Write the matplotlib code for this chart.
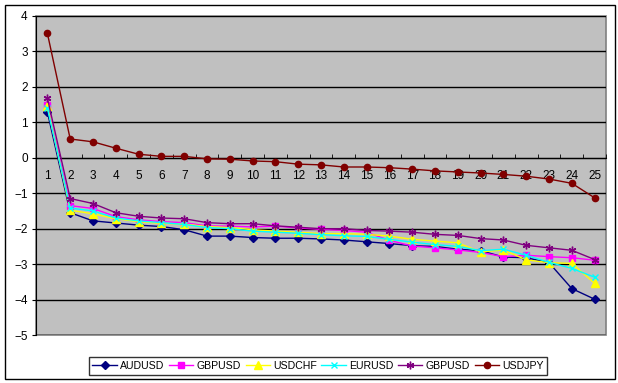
import numpy as np
import matplotlib.pyplot as plt
from matplotlib.patches import Rectangle

plt.rcParams['font.family'] = ['Liberation Sans', 'DejaVu Sans']

days = list(range(1, 26))

audusd = [1.29, -1.55, -1.78, -1.84, -1.90, -1.94, -2.03, -2.21, -2.21, -2.25,
          -2.27, -2.27, -2.29, -2.32, -2.37, -2.42, -2.48, -2.50, -2.58, -2.62,
          -2.80, -2.82, -2.96, -3.69, -3.99]
gbpusd = [1.48, -1.35, -1.43, -1.66, -1.75, -1.80, -1.83, -1.92, -1.93, -1.95,
          -1.93, -1.98, -2.02, -2.05, -2.10, -2.33, -2.49, -2.54, -2.60, -2.67,
          -2.79, -2.75, -2.79, -2.82, -2.89]
usdchf = [1.45, -1.48, -1.58, -1.72, -1.80, -1.85, -1.87, -1.94, -1.97, -2.03,
          -2.07, -2.10, -2.14, -2.14, -2.16, -2.21, -2.30, -2.35, -2.40, -2.66,
          -2.60, -2.88, -2.96, -2.98, -3.54]
eurusd = [1.40, -1.42, -1.50, -1.70, -1.78, -1.83, -1.88, -1.97, -2.00, -2.07,
          -2.10, -2.13, -2.17, -2.20, -2.22, -2.30, -2.38, -2.45, -2.50, -2.62,
          -2.58, -2.75, -2.95, -3.12, -3.37]
gbpusd2 = [1.68, -1.15, -1.29, -1.55, -1.65, -1.70, -1.72, -1.83, -1.86, -1.86,
           -1.92, -1.96, -2.00, -2.00, -2.05, -2.07, -2.10, -2.16, -2.19, -2.28,
           -2.32, -2.47, -2.54, -2.61, -2.87]
usdjpy = [3.51, 0.53, 0.45, 0.27, 0.10, 0.04, 0.04, -0.03, -0.04, -0.09,
          -0.11, -0.18, -0.20, -0.26, -0.26, -0.28, -0.32, -0.37, -0.40, -0.43,
          -0.47, -0.52, -0.60, -0.72, -1.13]

series = [
    ('AUDUSD', audusd, '#000080', 'D', 4),
    ('GBPUSD', gbpusd, '#FF00FF', 's', 4.5),
    ('USDCHF', usdchf, '#FFFF00', '^', 5.5),
    ('EURUSD', eurusd, '#00FFFF', 'x', 4.5),
    ('GBPUSD', gbpusd2, '#800080', (6, 2, 0), 5.5),
    ('USDJPY', usdjpy, '#800000', 'o', 4.5),
]

fig = plt.figure(figsize=(6.18, 3.83), dpi=100)
fig.patch.set_facecolor('white')
fig.patches.append(Rectangle((5 / 618, 4 / 383), 610 / 618, 374 / 383,
                             transform=fig.transFigure, fill=False,
                             edgecolor='black', linewidth=1))

ax = fig.add_axes([36 / 618, 48 / 383, 570 / 618, 319 / 383])
ax.set_facecolor('#C0C0C0')
ax.patch.set_edgecolor('#808080')
ax.patch.set_linewidth(1.2)

for name, vals, color, marker, ms in series:
    ax.plot(days, vals, color=color, linewidth=1, marker=marker, markersize=ms,
            markeredgewidth=1, markeredgecolor=color, markerfacecolor=color,
            label=name, zorder=3)

ax.set_xlim(0.5, 25.5)
ax.set_ylim(-5, 4)
ax.set_yticks(range(-5, 5))
ax.yaxis.grid(True, color='black', linewidth=1)
ax.set_axisbelow(True)

ax.spines['top'].set_visible(False)
ax.spines['right'].set_visible(False)
ax.spines['left'].set_color('black')
ax.spines['bottom'].set_position(('data', 0))
ax.spines['bottom'].set_color('black')

ax.set_xticks(days)
ax.set_xticklabels([str(d) for d in days])
ax.set_xticks(np.arange(0.5, 26, 1), minor=True)
ax.tick_params(axis='x', which='major', length=0, pad=9, labelsize=8.5)
ax.tick_params(axis='x', which='minor', direction='in', length=3, color='black')
ax.tick_params(axis='y', direction='out', length=3, labelsize=8.5, pad=3)

leg = ax.legend(loc='center', bbox_to_anchor=(318 / 618, 1 - 366 / 383),
                bbox_transform=fig.transFigure, ncol=6, fontsize=7.6,
                frameon=True, fancybox=False, edgecolor='black',
                handlelength=2.3, handletextpad=0.3, columnspacing=0.45,
                borderpad=0.35, borderaxespad=0)
leg.get_frame().set_linewidth(1)

fig.savefig('out.png', dpi=100)
